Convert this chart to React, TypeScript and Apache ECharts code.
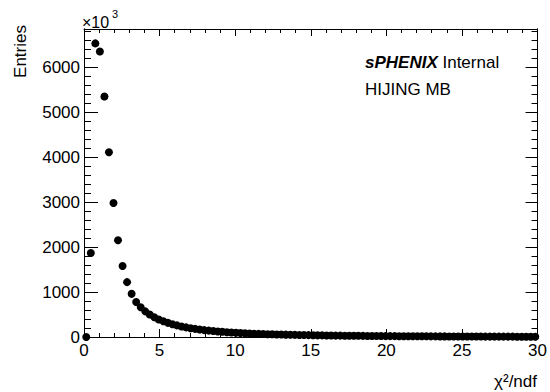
import React, { useEffect, useRef } from "react";
import * as echarts from "echarts";

// Histogram binning: 100 bins of width 0.3 from 0 to 30
const BIN_LOW = 0;
const BIN_WIDTH = 0.3;

// Entries per bin, in units of 10^3
const entries: number[] = [
  0, 1870, 6530, 6350, 5350, 4110, 2980, 2150, 1580, 1220,
  960, 780, 660, 570, 500, 440, 390, 350, 315, 285,
  258, 235, 214, 196, 180, 166, 153, 142, 132, 123,
  115, 107, 100, 94, 88, 83, 78, 74, 70, 66,
  63, 60, 57, 54, 52, 49, 47, 45, 43, 41,
  39, 37, 36, 34, 33, 31, 30, 29, 28, 27,
  26, 25, 24, 23, 22, 21, 20, 20, 19, 18,
  18, 17, 16, 16, 15, 15, 14, 14, 13, 13,
  12, 12, 12, 11, 11, 10, 10, 10, 9, 9,
  9, 8, 8, 8, 8, 7, 7, 7, 7, 6,
];

const X_MIN = 0;
const X_MAX = 30;
const X_MAJOR = 5;
const Y_MIN = 0;
const Y_MAX = 6850;
const Y_MAJOR = 1000;
const Y_MINOR = 200;

const xTitle = "χ²/ndf";
const yTitle = "Entries";
const expLabel = "×10";
const expPower = "3";
const labelLine1Bold = "sPHENIX";
const labelLine1 = " Internal";
const labelLine2 = "HIJING MB";

const FONT = "'Liberation Sans', Arial, Helvetica, sans-serif";

export default function App() {
  const ref = useRef<HTMLDivElement>(null);

  useEffect(() => {
    document.body.style.margin = "0";
    if (!ref.current) return;
    const chart = echarts.init(ref.current, undefined, { renderer: "svg" });

    const points = entries.map((v, i) => [BIN_LOW + BIN_WIDTH * (i + 0.5), v]);

    const line = { show: true, onZero: false, lineStyle: { color: "#000", width: 1 } };
    const tickStyle = { color: "#000", width: 1 };
    const noLabel = { show: false };
    const plain = (v: number) => String(v);

    const xBase = (position: "bottom" | "top", majorLen: number, minorLen: number, labels: boolean) => ({
      type: "value",
      position,
      min: X_MIN,
      max: X_MAX,
      interval: X_MAJOR,
      axisLine: line,
      axisTick: { show: true, inside: true, length: majorLen, lineStyle: tickStyle },
      minorTick: { show: true, splitNumber: 5, length: minorLen, lineStyle: tickStyle },
      splitLine: { show: false },
      axisLabel: labels
        ? { show: true, margin: 5, fontSize: 17, color: "#000", fontFamily: FONT, formatter: plain }
        : noLabel,
    });

    const yBase = (
      position: "left" | "right",
      interval: number,
      len: number,
      labels: boolean
    ) => ({
      type: "value",
      position,
      min: Y_MIN,
      max: Y_MAX,
      interval,
      axisLine: line,
      axisTick: { show: true, inside: true, length: len, lineStyle: tickStyle },
      minorTick: { show: false },
      splitLine: { show: false },
      axisLabel: labels
        ? {
            show: true,
            margin: 4,
            fontSize: 17,
            color: "#000",
            fontFamily: FONT,
            showMaxLabel: false,
            formatter: plain,
          }
        : noLabel,
    });

    chart.setOption({
      animation: false,
      backgroundColor: "#fff",
      grid: { left: 84, right: 11, top: 29, bottom: 55 },
      xAxis: [xBase("bottom", 8, 4, true), xBase("top", 7, 4, false)],
      yAxis: [
        yBase("left", Y_MAJOR, 14, true),
        yBase("left", Y_MINOR, 7, false),
        yBase("right", Y_MAJOR, 12, false),
        yBase("right", Y_MINOR, 6, false),
      ],
      series: [
        {
          type: "scatter",
          xAxisIndex: 0,
          yAxisIndex: 0,
          data: points,
          symbol: "circle",
          symbolSize: 8,
          clip: false,
          itemStyle: { color: "#000", opacity: 1 },
          emphasis: { disabled: true },
        },
      ],
      graphic: [
        {
          type: "text",
          x: 20,
          y: 25,
          rotation: Math.PI / 2,
          style: {
            text: yTitle,
            fontSize: 17,
            fontFamily: FONT,
            fill: "#000",
            align: "right",
            verticalAlign: "middle",
          },
        },
        {
          type: "text",
          x: 537,
          y: 381,
          style: {
            text: xTitle,
            fontSize: 17,
            fontFamily: FONT,
            fill: "#000",
            align: "right",
            verticalAlign: "middle",
          },
        },
        {
          type: "text",
          x: 82,
          y: 22,
          style: {
            text: expLabel,
            fontSize: 16,
            fontFamily: FONT,
            fill: "#000",
            align: "left",
            verticalAlign: "middle",
          },
        },
        {
          type: "text",
          x: 112,
          y: 14,
          style: {
            text: expPower,
            fontSize: 11,
            fontFamily: FONT,
            fill: "#000",
            align: "left",
            verticalAlign: "middle",
          },
        },
        {
          type: "text",
          x: 365,
          y: 62,
          style: {
            text: `{b|${labelLine1Bold}}{n|${labelLine1}}`,
            verticalAlign: "middle",
            align: "left",
            rich: {
              b: {
                fontSize: 17,
                fontFamily: FONT,
                fontWeight: "bold",
                fontStyle: "italic",
                fill: "#000",
              },
              n: { fontSize: 17, fontFamily: FONT, fill: "#000" },
            },
          },
        },
        {
          type: "text",
          x: 365,
          y: 89,
          style: {
            text: labelLine2,
            fontSize: 17,
            fontFamily: FONT,
            fill: "#000",
            align: "left",
            verticalAlign: "middle",
          },
        },
      ],
    });

    return () => chart.dispose();
  }, []);

  return <div ref={ref} style={{ width: 550, height: 392 }} />;
}
